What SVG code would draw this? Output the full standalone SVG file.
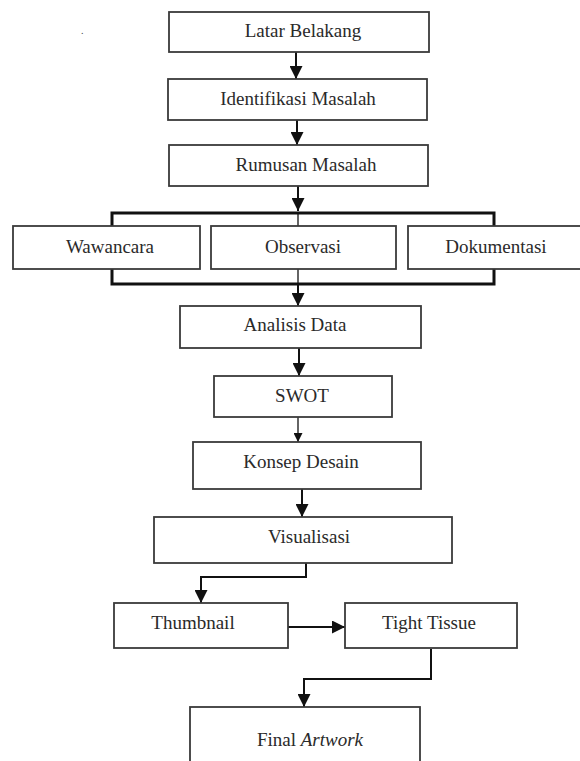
<svg xmlns="http://www.w3.org/2000/svg" width="580" height="761" viewBox="0 0 580 761">
<defs>
<style>
.box{fill:#fff;stroke:#3a3a3a;stroke-width:1.8}
.lbl{font-family:"Liberation Serif","Times New Roman",serif;font-size:19px;fill:#2a2a2a;text-anchor:middle}
.ln{fill:none;stroke:#111;stroke-width:2}
.thin{fill:none;stroke:#111;stroke-width:1.3}
.br{fill:none;stroke:#111;stroke-width:3}
</style>
<marker id="ah" viewBox="0 0 12 12" refX="12" refY="6" markerWidth="13" markerHeight="13" markerUnits="userSpaceOnUse" orient="auto">
<path d="M0,0 L12,6 L0,12 Z" fill="#111"/>
</marker>
<marker id="ahs" viewBox="0 0 10 10" refX="10" refY="5" markerWidth="9" markerHeight="9" markerUnits="userSpaceOnUse" orient="auto">
<path d="M0,0 L10,5 L0,10 Z" fill="#111"/>
</marker>
</defs>
<rect width="580" height="761" fill="#fff"/>
<text x="81" y="34" style="font-family:'Liberation Serif',serif;font-size:10px;fill:#444">.</text>

<g id="connectors">
<path class="ln" d="M296 52 V79" marker-end="url(#ah)"/>
<path class="ln" d="M297 120 V145" marker-end="url(#ah)"/>
<path class="ln" d="M298 186 V211" marker-end="url(#ah)"/>
<path class="br" d="M112 226 V213 H494 V226"/>
<path class="thin" d="M298 213 V226"/>
<path class="br" d="M112 269 V284 H494 V269"/>
<path class="thin" d="M298 269 V284"/>
<path class="ln" d="M298 284 V306" marker-end="url(#ah)"/>
<path class="ln" d="M299 348 V376" marker-end="url(#ah)"/>
<path class="thin" d="M298 417 V442" marker-end="url(#ahs)"/>
<path class="ln" d="M302 489 V517" marker-end="url(#ah)"/>
<path class="ln" d="M306 563 V577 H201 V603" marker-end="url(#ah)"/>
<path class="ln" d="M288 627 H345" marker-end="url(#ah)"/>
<path class="ln" d="M431 649 V679 H304 V707" marker-end="url(#ah)"/>
</g>

<g id="latar-belakang"><rect class="box" x="169" y="12" width="260" height="40"/><text class="lbl" x="303" y="37">Latar Belakang</text></g>
<g id="identifikasi-masalah"><rect class="box" x="168" y="79" width="259" height="41"/><text class="lbl" x="298" y="105">Identifikasi Masalah</text></g>
<g id="rumusan-masalah"><rect class="box" x="169" y="145" width="259" height="41"/><text class="lbl" x="306" y="171">Rumusan Masalah</text></g>
<g id="wawancara"><rect class="box" x="13" y="226" width="187" height="43"/><text class="lbl" x="110" y="253">Wawancara</text></g>
<g id="observasi"><rect class="box" x="211" y="226" width="185" height="43"/><text class="lbl" x="303" y="253">Observasi</text></g>
<g id="dokumentasi"><rect class="box" x="408" y="226" width="180" height="43"/><text class="lbl" x="496" y="253">Dokumentasi</text></g>
<g id="analisis-data"><rect class="box" x="180" y="306" width="241" height="42"/><text class="lbl" x="295" y="331">Analisis Data</text></g>
<g id="swot"><rect class="box" x="214" y="376" width="178" height="41"/><text class="lbl" x="302" y="402">SWOT</text></g>
<g id="konsep-desain"><rect class="box" x="193" y="442" width="228" height="47"/><text class="lbl" x="301" y="468">Konsep Desain</text></g>
<g id="visualisasi"><rect class="box" x="154" y="517" width="298" height="46"/><text class="lbl" x="309" y="543">Visualisasi</text></g>
<g id="thumbnail"><rect class="box" x="114" y="603" width="174" height="45"/><text class="lbl" x="193" y="629">Thumbnail</text></g>
<g id="tight-tissue"><rect class="box" x="345" y="603" width="172" height="45"/><text class="lbl" x="429" y="629">Tight Tissue</text></g>
<g id="final-artwork"><rect class="box" x="190" y="707" width="230" height="62"/><text class="lbl" x="310" y="746">Final <tspan font-style="italic">Artwork</tspan></text></g>
</svg>
